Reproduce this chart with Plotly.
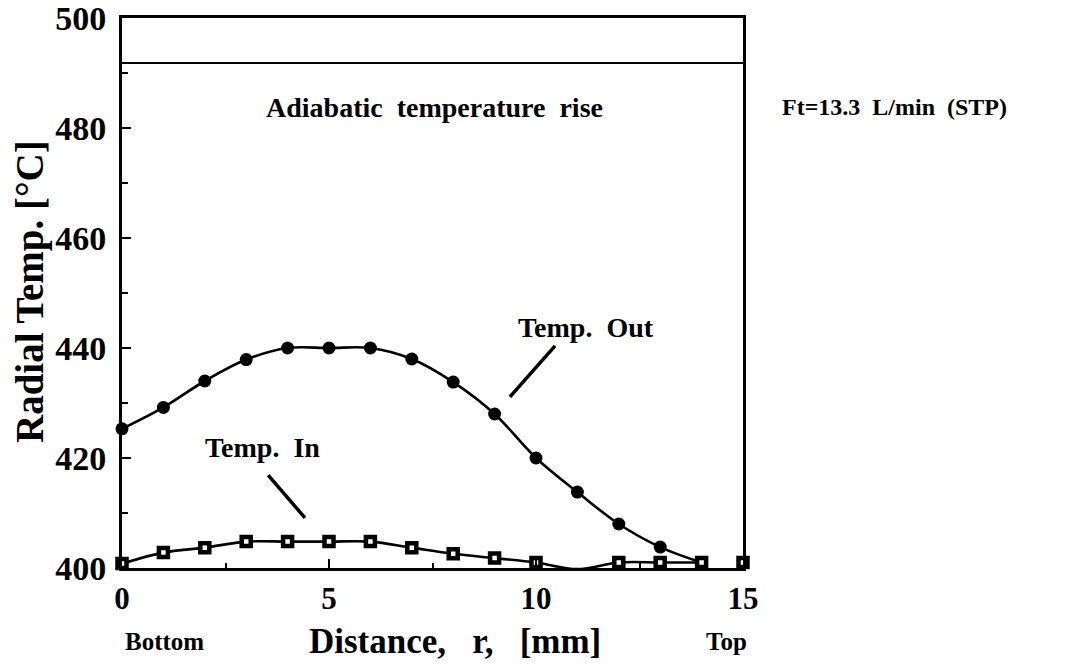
import plotly.graph_objects as go

# Radial temperature profiles across the reactor (distance in mm, temperature in °C)
r_out = [0, 1, 2, 3, 4, 5, 6, 7, 8, 9, 10, 11, 12, 13, 14]
temp_out = [425.3, 429.2, 434.0, 437.9, 440.0, 440.0, 440.0, 438.0, 433.8, 428.0, 420.0, 413.8, 408.0, 403.8, 401.0]

r_in = [0, 1, 2, 3, 4, 5, 6, 7, 8, 9, 10, 11, 12, 13, 14, 15]
temp_in = [400.8, 402.8, 403.7, 404.8, 404.8, 404.8, 404.8, 403.7, 402.6, 401.8, 401.0, 399.8, 401.0, 401.0, 401.0, 401.0]

adiabatic_rise = 491.8

x_ticks = [0, 5, 10, 15]
y_ticks = [400, 420, 440, 460, 480, 500]

FONT = "Liberation Serif"
BLACK = "#000000"
SP = "\u00a0\u00a0"     # wide word gap
SP3 = "\u00a0\u00a0\u00a0"


def bold(s):
    return "<b>" + s + "</b>"


fig = go.Figure()

# Temp. Out: smooth curve with filled markers
fig.add_trace(go.Scatter(
    x=r_out, y=temp_out, mode="lines+markers",
    line=dict(color=BLACK, width=2.6, shape="spline", smoothing=1.0),
    marker=dict(symbol="circle", size=13, color=BLACK),
    cliponaxis=False, showlegend=False,
))

# Temp. In: smooth curve (up to 14 mm) and square markers with a small white centre
fig.add_trace(go.Scatter(
    x=r_in[:-1], y=temp_in[:-1], mode="lines",
    line=dict(color=BLACK, width=2.6, shape="spline", smoothing=1.0),
    cliponaxis=False, showlegend=False,
))
fig.add_trace(go.Scatter(
    x=r_in, y=temp_in, mode="markers",
    marker=dict(symbol="square", size=9, color="white",
                line=dict(color=BLACK, width=4.5)),
    cliponaxis=False, showlegend=False,
))

# Adiabatic temperature rise level
fig.add_shape(type="line", x0=0, x1=15, y0=adiabatic_rise, y1=adiabatic_rise,
              xref="x", yref="y", line=dict(color=BLACK, width=2))

# Leader lines for the curve labels
fig.add_shape(type="line", x0=10.46, y0=440.4, x1=9.37, y1=431.1,
              xref="x", yref="y", line=dict(color=BLACK, width=3.5))
fig.add_shape(type="line", x0=3.53, y0=416.9, x1=4.42, y1=409.1,
              xref="x", yref="y", line=dict(color=BLACK, width=3.5))

label_font = dict(family=FONT, size=28, color=BLACK)

fig.add_annotation(x=7.56, y=483.8, xref="x", yref="y",
                   text=bold(SP.join(["Adiabatic", "temperature", "rise"])),
                   showarrow=False, font=label_font)
fig.add_annotation(x=11.2, y=443.8, xref="x", yref="y",
                   text=bold("Temp." + SP + "Out"), showarrow=False, font=label_font)
fig.add_annotation(x=3.4, y=422.0, xref="x", yref="y",
                   text=bold("Temp." + SP + "In"), showarrow=False, font=label_font)
fig.add_annotation(x=1.06, y=483.8, xref="paper", yref="y", xanchor="left",
                   text=bold(SP.join(["Ft=13.3", "L/min", "(STP)"])), showarrow=False,
                   font=dict(family=FONT, size=24, color=BLACK))

# Axis titles and end labels
fig.add_annotation(x=0.536, y=-0.133, xref="paper", yref="paper",
                   text=bold(SP3.join(["Distance,", "r,", "[mm]"])), showarrow=False,
                   xanchor="center", yanchor="middle",
                   font=dict(family=FONT, size=35, color=BLACK))
fig.add_annotation(x=-0.148, y=0.502, xref="paper", yref="paper",
                   text=bold("Radial Temp. [°C]"), showarrow=False, textangle=-90,
                   xanchor="center", yanchor="middle",
                   font=dict(family=FONT, size=39, color=BLACK))
fig.add_annotation(x=0.069, y=-0.133, xref="paper", yref="paper",
                   text=bold("Bottom"), showarrow=False,
                   xanchor="center", yanchor="middle",
                   font=dict(family=FONT, size=25, color=BLACK))
fig.add_annotation(x=0.973, y=-0.133, xref="paper", yref="paper",
                   text=bold("Top"), showarrow=False,
                   xanchor="center", yanchor="middle",
                   font=dict(family=FONT, size=25, color=BLACK))

fig.update_xaxes(
    range=[0, 15], tickvals=x_ticks, ticktext=[bold(str(v)) for v in x_ticks],
    ticks="inside", ticklen=9, tickwidth=2, tickcolor=BLACK,
    minor=dict(dtick=2.5, ticks="inside", ticklen=5, tickwidth=2, tickcolor=BLACK),
    showline=True, linewidth=3, linecolor=BLACK, mirror=True,
    showgrid=False, zeroline=False, automargin=False,
    tickfont=dict(family=FONT, size=31, color=BLACK),
    ticklabelstandoff=1, ticklabeloverflow="allow",
)
fig.update_yaxes(
    range=[400, 500], tickvals=y_ticks, ticktext=[bold(str(v)) for v in y_ticks],
    ticks="inside", ticklen=9, tickwidth=2, tickcolor=BLACK,
    minor=dict(dtick=10, ticks="inside", ticklen=6, tickwidth=2, tickcolor=BLACK),
    showline=True, linewidth=3, linecolor=BLACK, mirror=True,
    showgrid=False, zeroline=False, automargin=False,
    tickfont=dict(family=FONT, size=34, color=BLACK),
    ticklabelstandoff=6, ticklabeloverflow="allow",
)

fig.update_layout(
    width=1071, height=664,
    margin=dict(l=122, r=328, t=18, b=96),
    paper_bgcolor="white", plot_bgcolor="white",
)

fig.write_html("out.html")
